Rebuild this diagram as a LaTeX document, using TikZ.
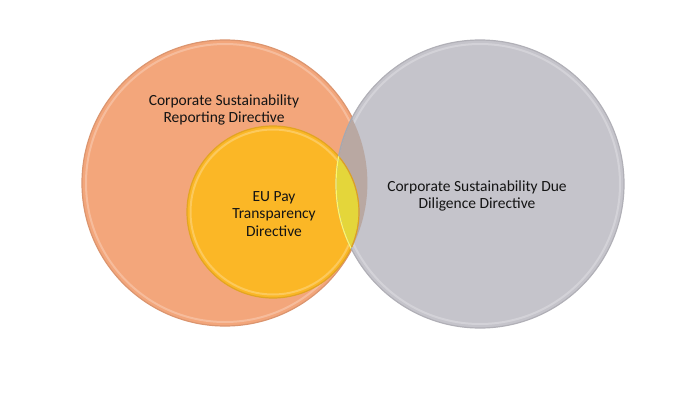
\documentclass[tikz,border=0pt]{standalone}
\usepackage{fontspec}
\setmainfont{Carlito}
\begin{document}
\begin{tikzpicture}[x=1pt,y=-1pt]
\definecolor{orangeC}{HTML}{F3A67B}
\definecolor{grayC}{HTML}{C5C4CB}
\definecolor{yellowC}{HTML}{FBB726}
\definecolor{ogC}{HTML}{B9A8A2}
\definecolor{ygC}{HTML}{E4D63A}
\definecolor{txtC}{HTML}{141414}
\tikzset{
  venn/.style={circle, inner sep=0pt, line width=1.2pt},
  bevel/.style={line width=2pt, white, opacity=0.25},
  lbl/.style={align=center, text=txtC, font=\fontsize{15.5}{17.2}\selectfont, inner sep=0pt}
}
\useasboundingbox (0,0) rectangle (694,418);
\fill[white] (0,0) rectangle (694,418);
% circles
\node[venn, fill=orangeC, draw=orangeC!90!black, minimum size=286pt] (csrd) at (225,183) {};
\draw[bevel] (225,183) circle (139);
\node[venn, fill=grayC, draw=grayC!90!black, minimum size=288pt] (csddd) at (480,184) {};
\draw[bevel] (480,184) circle (140);
\node[venn, fill=yellowC, draw=yellowC!90!black, minimum size=172pt] (pay) at (273,212) {};
\draw[bevel] (273,212) circle (82.5);
% overlap lenses
\begin{scope}
  \clip (480,184) circle (143.4);
  \fill[ogC] (225,183) circle (142.4);
  \fill[ygC] (273,212) circle (85.4);
  \draw[line width=1.2pt, yellowC!88!black] (273,212) circle (86);
\end{scope}
\begin{scope}
  \clip (225,183) circle (143);
  \draw[line width=1.2pt, grayC!85!black] (480,184) circle (144);
\end{scope}
\begin{scope}
  \clip (273,212) circle (86);
  \draw[line width=1.2pt, yellow!60!white] (480,184) circle (144);
\end{scope}
% labels
\node[lbl] (tcsrd) at (224,110) {Corporate Sustainability\\Reporting Directive};
\node[lbl] (tpay) at (274,214) {EU Pay\\Transparency\\Directive};
\node[lbl] (tcsddd) at (477,196) {Corporate Sustainability Due\\Diligence Directive};
\end{tikzpicture}
\end{document}
